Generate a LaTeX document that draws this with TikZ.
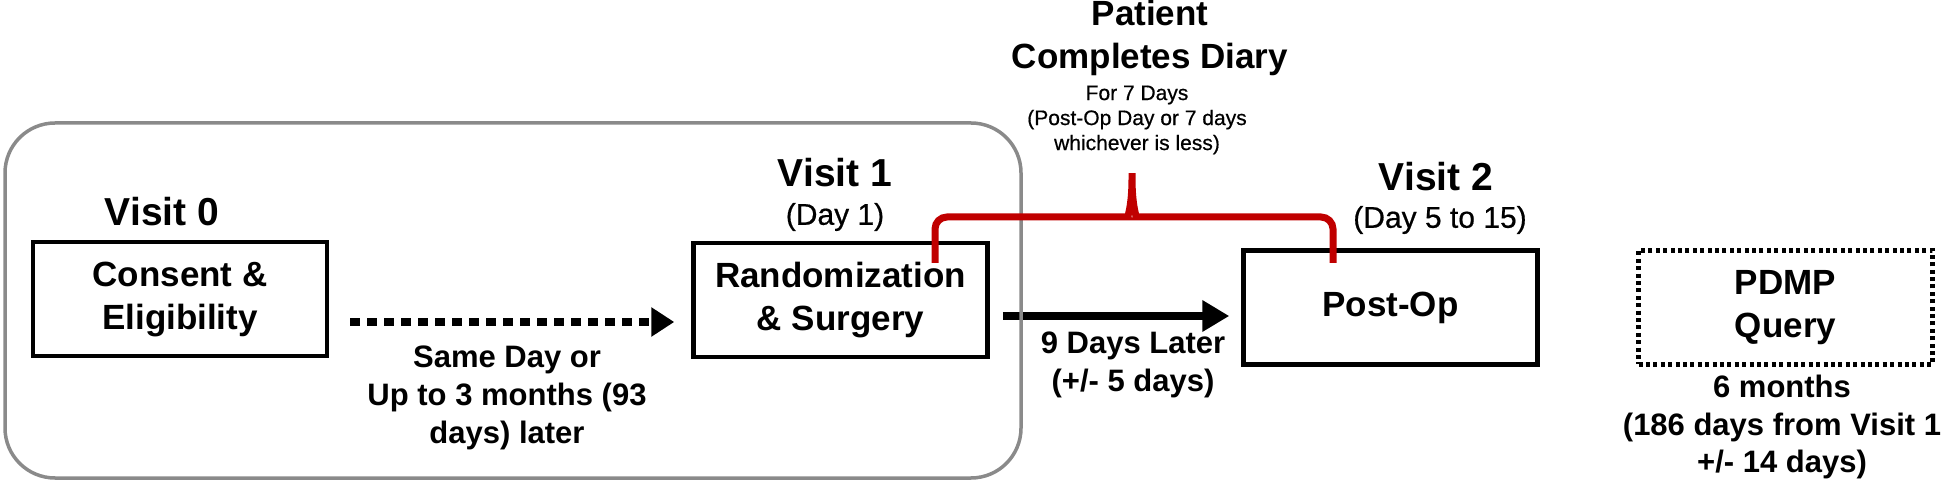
\documentclass[tikz,border=0pt]{standalone}
\usepackage{fontspec}
\setmainfont{Liberation Sans}
\newfontfamily\medfont[FakeBold=0.6]{Liberation Sans}
\usetikzlibrary{arrows.meta}
\definecolor{bracered}{HTML}{C00000}
\definecolor{framegray}{HTML}{8A8A8A}
\begin{document}
\begin{tikzpicture}[x=0.5pt,y=-0.5pt,
  stepbox/.style={draw, line width=2.25pt, minimum width=147pt, minimum height=57pt, inner sep=0pt, align=center,
    font=\fontsize{17.5}{21.5}\selectfont\bfseries},
  dotbox/.style={stepbox, dash pattern=on 2pt off 1.7pt},
  frame/.style={draw=framegray, line width=1.75pt, rounded corners=25pt, minimum width=508pt, minimum height=177.5pt, inner sep=0pt},
  visit/.style={inner sep=0pt, font=\fontsize{19.5}{23}\selectfont\bfseries},
  day/.style={inner sep=0pt, font=\medfont\fontsize{15}{18}\selectfont},
  lab/.style={inner sep=0pt, align=center, font=\fontsize{15.5}{18.9}\selectfont\bfseries},
  diarytitle/.style={inner sep=0pt, align=center, font=\fontsize{17.5}{21.5}\selectfont\bfseries},
  small/.style={inner sep=0pt, align=center, font=\medfont\fontsize{10.5}{12.5}\selectfont},
  dotarrow/.style={line width=4pt, dash pattern=on 5pt off 3.5pt, -{Triangle[length=11.5pt,width=14pt]}},
  solidarrow/.style={line width=4pt, -{Triangle[length=13.5pt,width=15pt]}},
  brace/.style={draw=bracered, line width=3.5pt, rounded corners=6pt}
]
\useasboundingbox (0,0) rectangle (1946,485);

% boxes
\node[stepbox] (consent) at (180,299) {Consent \&\\Eligibility};
\node[stepbox] (random) at (840.5,300) {Randomization\\\& Surgery};
\node[stepbox] (postop) at (1390.5,307.5) {Post-Op};
\node[dotbox] (pdmp) at (1785.5,307.5) {PDMP\\Query};

% arrows
\draw[solidarrow, shorten <=6.5pt, shorten >=6pt] ([yshift=-8pt]random.east) -- ([yshift=-8pt]random.east -| postop.west);
\draw[dotarrow, shorten <=10.5pt, shorten >=8.5pt] ([yshift=-11.5pt]consent.east) -- ([yshift=-11.5pt]consent.east -| random.west);

% grouping frame
\node[frame] (group) at (513,300.5) {};

% labels
\node[visit] (v0) at (162,212) {Visit 0};
\node[visit] (v1) at (835,173) {Visit 1};
\node[day] (d1) at (835,217) {(Day 1)};
\node[visit] (v2) at (1436,177) {Visit 2};
\node[day] (d2) at (1440,220) {(Day 5 to 15)};
\node[diarytitle] (diary) at (1150,38) {Patient\\Completes Diary};
\node[small] (diarynote) at (1137,120) {For 7 Days\\(Post-Op Day or 7 days\\whichever is less)};
\node[lab] (lab1) at (507,398) {Same Day or\\Up to 3 months (93\\days) later};
\node[lab] (lab2) at (1133,365) {9 Days Later\\(+/- 5 days)};
\node[lab] (lab3) at (1782,427) {6 months\\(186 days from Visit 1\\+/- 14 days)};

% brace
\coordinate (bl) at (935,263);
\coordinate (br) at (1333,263);
\coordinate (bc) at (1132,166);
\draw[brace] (bl) -- (935,217) -- (1116,217)
  .. controls (1127,217) and (1132,208) .. (bc)
  .. controls (1132,208) and (1137,217) .. (1148,217)
  -- (1333,217) -- (br);
\end{tikzpicture}
\end{document}
